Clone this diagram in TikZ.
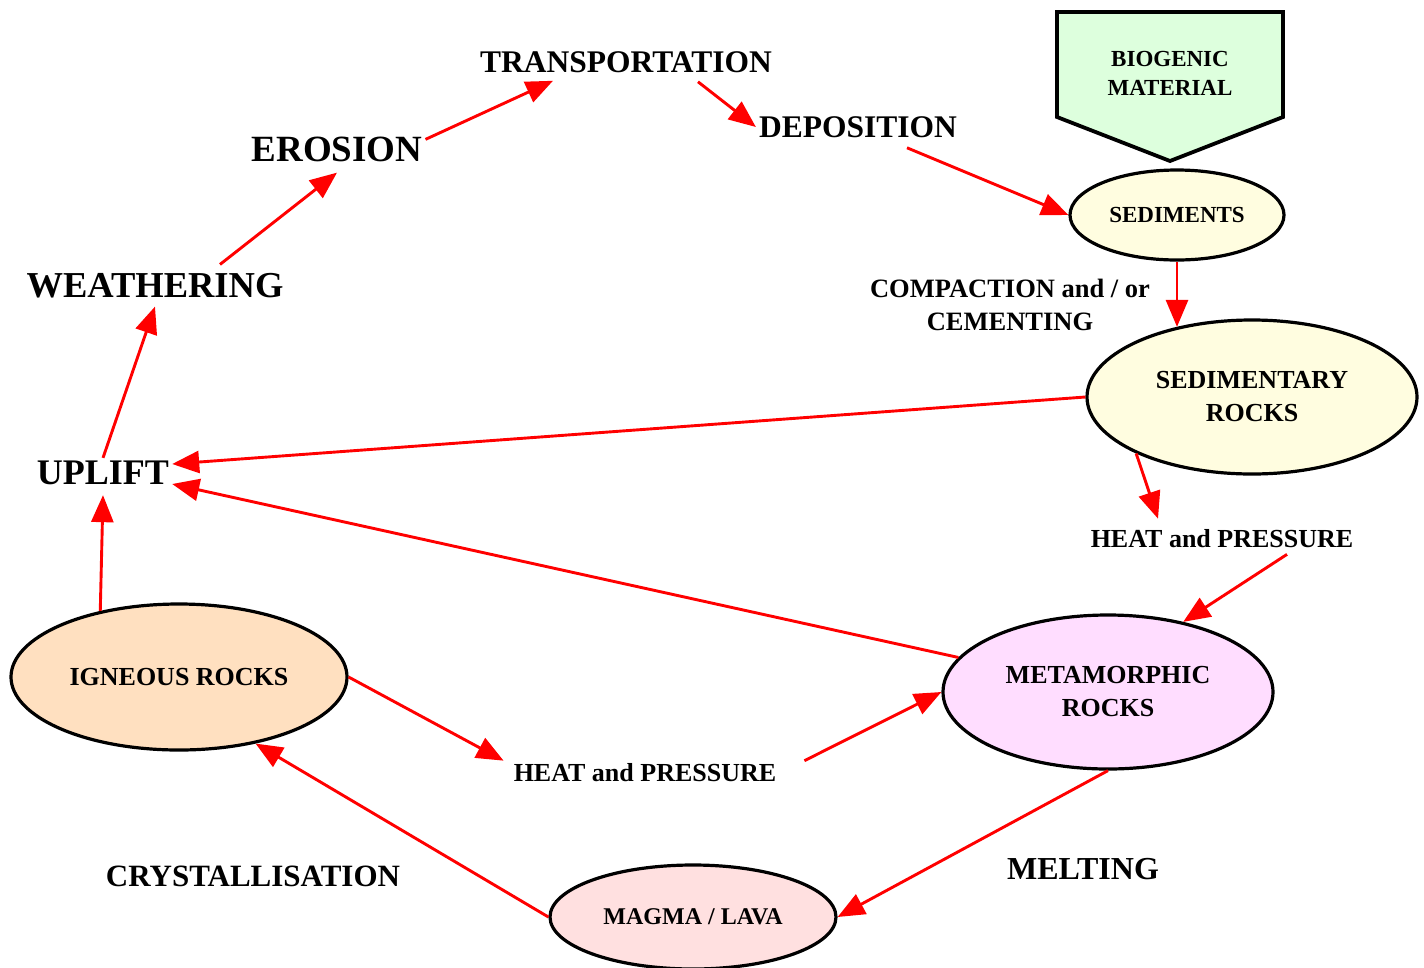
\documentclass[tikz,border=0pt]{standalone}
\usepackage{fontspec}
\setmainfont{Liberation Serif}
\usetikzlibrary{shapes.geometric,arrows.meta}
\definecolor{sedfill}{RGB}{255,253,224}
\definecolor{ignfill}{RGB}{255,224,192}
\definecolor{metafill}{RGB}{255,221,255}
\definecolor{magfill}{RGB}{255,224,224}
\definecolor{biofill}{RGB}{221,255,221}
\begin{document}
\begin{tikzpicture}[x=1pt,y=-1pt,
  txt/.style={inner sep=3pt,align=center,font=\bfseries\fontsize{#1}{33}\selectfont},
  rock/.style={ellipse,draw=black,line width=3.2pt,inner sep=0pt,align=center},
  arr/.style={-{Triangle[length=27pt,width=22pt]},red,line width=2.9pt}]
  \useasboundingbox (0,0) rectangle (1424,967);
  % the loop of processes
  \node[txt=31.5] (trans) at (626,62) {TRANSPORTATION};
  \node[txt=31.5] (depo) at (858,127) {DEPOSITION};
  \node[txt=37] (erosion) at (337,149) {EROSION};
  \node[txt=36.5] (weather) at (155,286) {WEATHERING};
  \node[txt=36] (uplift) at (103,473) {UPLIFT};
  \node[txt=26.5] (compact) at (1010,305) {COMPACTION and / or\\CEMENTING};
  \node[txt=26] (heatR) at (1222,539) {HEAT and PRESSURE};
  \node[txt=26] (heatB) at (645,773) {HEAT and PRESSURE};
  \node[txt=31] (crystal) at (253,876) {CRYSTALLISATION};
  \node[txt=32] (melt) at (1083,869) {MELTING};
  % biogenic input
  \draw[fill=biofill,line width=3.8pt,line join=miter] (1057,12) -- (1283,12) -- (1283,117) -- (1170,161) -- (1057,117) -- cycle;
  \node[font=\bfseries\fontsize{23}{29}\selectfont,align=center] (bio) at (1170,73) {BIOGENIC\\MATERIAL};
  % rocks
  \node[rock,fill=sedfill,minimum width=214pt,minimum height=90pt,font=\bfseries\fontsize{23}{29}\selectfont] (sed) at (1177,215) {SEDIMENTS};
  \node[rock,fill=sedfill,minimum width=330pt,minimum height=154pt,font=\bfseries\fontsize{26}{33}\selectfont] (sedrock) at (1252,397) {SEDIMENTARY\\ROCKS};
  \node[rock,fill=metafill,minimum width=330pt,minimum height=154pt,font=\bfseries\fontsize{26}{33}\selectfont] (meta) at (1108,692) {METAMORPHIC\\ROCKS};
  \node[rock,fill=ignfill,minimum width=336pt,minimum height=146pt,font=\bfseries\fontsize{26}{33}\selectfont] (ign) at (179,677) {IGNEOUS ROCKS};
  \node[rock,fill=magfill,minimum width=286pt,minimum height=104pt,font=\bfseries\fontsize{24}{29}\selectfont] (magma) at (693,917) {MAGMA / LAVA};
  % arrows
  \draw[arr] (uplift.north) -- ([yshift=-5pt]weather.south);
  \draw[arr] ([xshift=65pt,yshift=6pt]weather.north) -- ([yshift=-8pt]erosion.south);
  \draw[arr] ([yshift=-6pt]erosion.north east) -- ([xshift=-73pt,yshift=-5pt]trans.south);
  \draw[arr] ([xshift=72pt,yshift=-6pt]trans.south) -- (depo.west);
  \draw[arr] ([xshift=49pt,yshift=-7pt]depo.south) -- (sed.west);
  \draw[arr] (sed.south) -- (sed.south |- sedrock.137);
  \draw[arr] (sedrock.west) -- ([yshift=9pt]uplift.east);
  \draw[arr] (sedrock.-154) -- ([xshift=-64pt,yshift=8pt]heatR.north);
  \draw[arr] ([xshift=65pt,yshift=-3pt]heatR.south) -- (meta.43);
  \draw[arr] (meta.167) -- ([yshift=-11pt]uplift.east);
  \draw[arr] (ign.140) -- ([yshift=-7pt]uplift.south);
  \draw[arr] (ign.east) -- ([xshift=-7pt]heatB.north west);
  \draw[arr] ([xshift=25pt]heatB.north east) -- (meta.west);
  \draw[arr] (meta.south) -- (magma.east);
  \draw[arr] (magma.west) -- (ign.-41);
\end{tikzpicture}
\end{document}
